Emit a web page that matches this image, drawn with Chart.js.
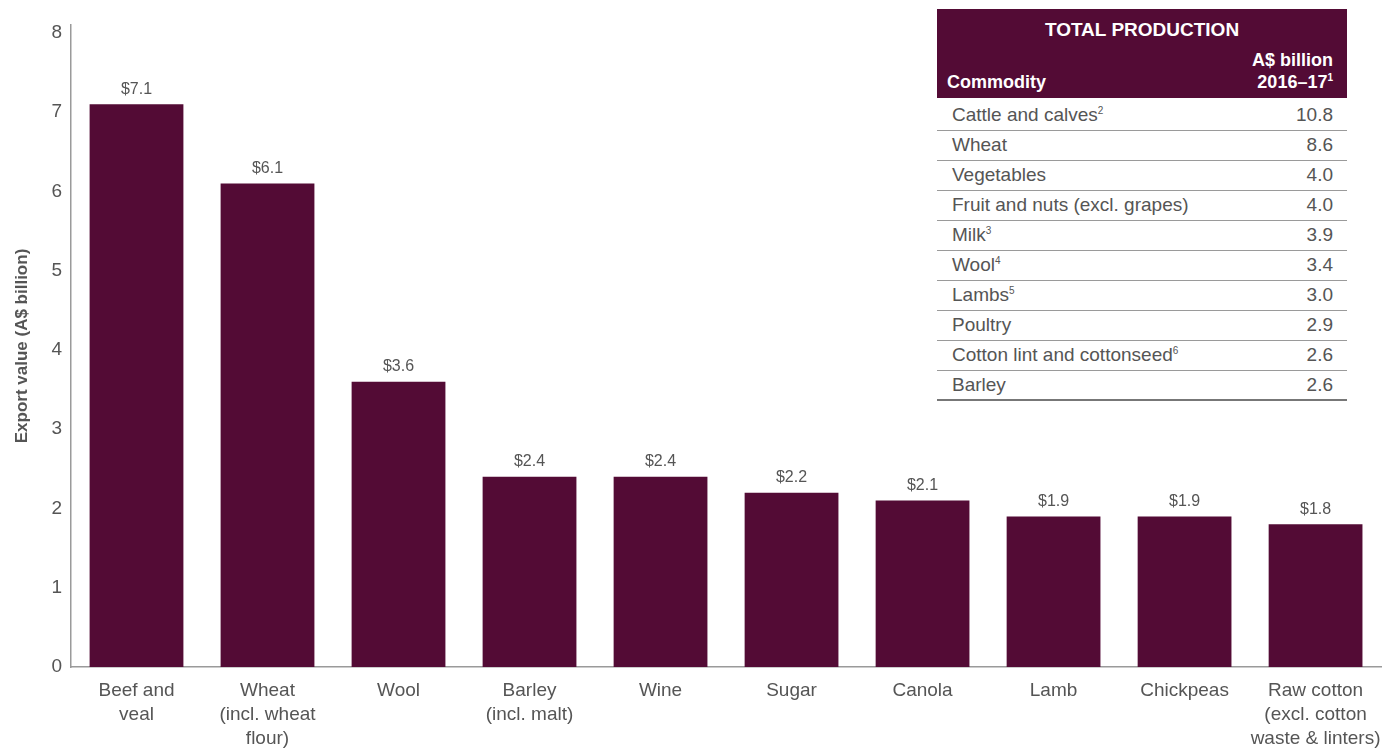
<!DOCTYPE html>
<html lang="en">
  <head>
    <meta charset="UTF-8" />
    <title>Export value chart</title>
    <style>
      * {
        margin: 0;
        padding: 0;
        box-sizing: border-box;
      }
      body {
        width: 1393px;
        height: 749px;
        overflow: hidden;
        background: #ffffff;
        font-family: "Liberation Sans", Arial, sans-serif;
      }
      #wrap {
        position: relative;
        width: 1393px;
        height: 749px;
      }
      #prodTable {
        position: absolute;
        left: 937px;
        top: 9px;
        width: 410px;
        border-collapse: collapse;
        color: #555555;
        font-size: 19px;
        background: #ffffff;
      }
      #prodTable th {
        background: #530b35;
        color: #ffffff;
        font-weight: bold;
      }
      #prodTable .title th {
        text-align: center;
        height: 38px;
        padding-top: 4px;
        font-size: 19px;
      }
      #prodTable .head th {
        height: 51px;
        vertical-align: bottom;
        padding: 0 14px 5px 10px;
        line-height: 22px;
        font-size: 18px;
      }
      #prodTable td {
        height: 30px;
        border-bottom: 1px solid #9a9a9a;
        padding: 0 14px 0 15px;
      }
      #prodTable tr.first td {
        height: 32px;
        padding-top: 3px;
      }
      #prodTable tr:last-child td {
        border-bottom: 2px solid #777777;
      }
      .r {
        text-align: right;
      }
      .l {
        text-align: left;
      }
      sup {
        font-size: 10px;
        vertical-align: 7px;
        line-height: 0;
      }
    </style>
    <script src="https://cdn.jsdelivr.net/npm/chart.js@4"></script>
  </head>
  <body>
    <div id="wrap">
      <canvas id="myChart" width="1393" height="749"></canvas>
      <table id="prodTable"></table>
    </div>

    <script>
      // bar chart data
      const categories = [
        ["Beef and", "veal"],
        ["Wheat", "(incl. wheat", "flour)"],
        "Wool",
        ["Barley", "(incl. malt)"],
        "Wine",
        "Sugar",
        "Canola",
        "Lamb",
        "Chickpeas",
        ["Raw cotton", "(excl. cotton", "waste & linters)"],
      ];
      const exportValues = [7.1, 6.1, 3.6, 2.4, 2.4, 2.2, 2.1, 1.9, 1.9, 1.8];
      const yTicks = [0, 1, 2, 3, 4, 5, 6, 7, 8];

      // table data
      const commodities = [
        "Cattle and calves",
        "Wheat",
        "Vegetables",
        "Fruit and nuts (excl. grapes)",
        "Milk",
        "Wool",
        "Lambs",
        "Poultry",
        "Cotton lint and cottonseed",
        "Barley",
      ];
      const footnotes = ["2", "", "", "", "3", "4", "5", "", "6", ""];
      const production = ["10.8", "8.6", "4.0", "4.0", "3.9", "3.4", "3.0", "2.9", "2.6", "2.6"];

      const barColor = "#530b35";
      const textColor = "#555555";
      const fontFamily = "'Liberation Sans', Arial, sans-serif";

      // build the table
      let html =
        '<tr class="title"><th colspan="2">TOTAL PRODUCTION</th></tr>' +
        '<tr class="head"><th class="l">Commodity</th><th class="r">A$ billion<br>2016–17<sup>1</sup></th></tr>';
      commodities.forEach((c, i) => {
        const sup = footnotes[i] ? "<sup>" + footnotes[i] + "</sup>" : "";
        const cls = i === 0 ? ' class="first"' : "";
        html += `<tr${cls}><td class="l">${c}${sup}</td><td class="r">${production[i]}</td></tr>`;
      });
      document.getElementById("prodTable").innerHTML = html;

      // value labels above bars
      const barLabels = {
        id: "barLabels",
        afterDatasetsDraw(chart) {
          const ctx = chart.ctx;
          const meta = chart.getDatasetMeta(0);
          ctx.save();
          ctx.font = "16px " + fontFamily;
          ctx.fillStyle = textColor;
          ctx.textAlign = "center";
          ctx.textBaseline = "middle";
          meta.data.forEach((bar, i) => {
            ctx.fillText("$" + exportValues[i].toFixed(1), bar.x, bar.y - 15);
          });
          ctx.restore();
        },
      };

      const ctx = document.getElementById("myChart").getContext("2d");
      const myChart = new Chart(ctx, {
        type: "bar",
        data: {
          labels: categories,
          datasets: [
            {
              data: exportValues,
              backgroundColor: barColor,
              borderWidth: 0,
              barPercentage: 0.716,
              categoryPercentage: 1,
            },
          ],
        },
        options: {
          responsive: false,
          animation: false,
          layout: {
            padding: { left: 0, right: 10, top: 25, bottom: 0 },
          },
          plugins: {
            legend: { display: false },
            tooltip: { enabled: false },
          },
          scales: {
            x: {
              grid: { display: false, drawTicks: false },
              border: { display: true, color: "#9a9a9a", width: 1.5 },
              ticks: {
                color: textColor,
                font: { family: fontFamily, size: 19, lineHeight: 1.26 },
                padding: 12,
                maxRotation: 0,
                autoSkip: false,
              },
              afterFit: (scale) => {
                scale.height = 82;
              },
            },
            y: {
              min: 0,
              max: 8.1,
              afterBuildTicks: (scale) => {
                scale.ticks = yTicks.map((v) => ({ value: v }));
              },
              grid: { display: false, drawTicks: false },
              border: { display: true, color: "#9a9a9a", width: 1.5 },
              ticks: {
                color: textColor,
                font: { family: fontFamily, size: 19 },
                padding: 9,
              },
              title: {
                display: true,
                text: "Export value (A$ billion)",
                color: textColor,
                font: { family: fontFamily, size: 17, weight: "bold" },
                padding: { top: 12, bottom: 0 },
              },
              afterFit: (scale) => {
                scale.width = 71;
              },
            },
          },
        },
        plugins: [barLabels],
      });
    </script>
  </body>
</html>
